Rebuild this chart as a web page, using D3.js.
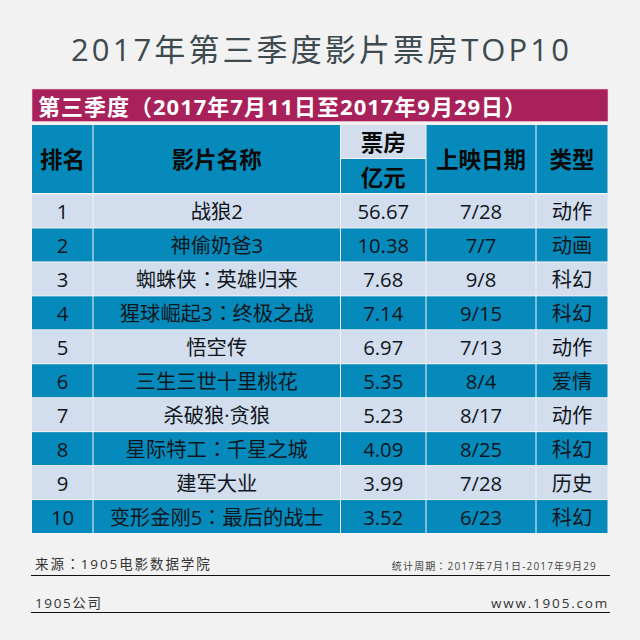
<!DOCTYPE html>
<html>
<head>
<meta charset="utf-8">
<script src="https://cdn.jsdelivr.net/npm/d3@7"></script>
<style>
  /* 全角标点用繁体字形，这样才居中 */
  @font-face { font-family: "Punct"; font-weight: 400; src: local("Noto Sans CJK TC"); unicode-range: U+FF08, U+FF09, U+FF1A; }
  @font-face { font-family: "Punct"; font-weight: 700; src: local("Noto Sans CJK TC Bold"); unicode-range: U+FF08, U+FF09, U+FF1A; }
  html, body { margin: 0; padding: 0; background: #f2f2f2; }
  svg { display: block; }
  text { font-family: "Punct", "Open Sans", "Noto Sans CJK SC", sans-serif; text-anchor: middle; dominant-baseline: central; }
</style>
</head>
<body>
<svg id="chart" width="640" height="640"></svg>
<script>
const ranks = [1, 2, 3, 4, 5, 6, 7, 8, 9, 10];
const films = ["战狼2", "神偷奶爸3", "蜘蛛侠：英雄归来", "猩球崛起3：终极之战", "悟空传", "三生三世十里桃花", "杀破狼·贪狼", "星际特工：千星之城", "建军大业", "变形金刚5：最后的战士"];
const boxOffice = ["56.67", "10.38", "7.68", "7.14", "6.97", "5.35", "5.23", "4.09", "3.99", "3.52"];
const dates = ["7/28", "7/7", "9/8", "9/15", "7/13", "8/4", "8/17", "8/25", "7/28", "6/23"];
const genres = ["动作", "动画", "科幻", "科幻", "动作", "爱情", "动作", "科幻", "历史", "科幻"];

const columns = [ranks, films, boxOffice, dates, genres];
const headers = ["排名", "影片名称", null, "上映日期", "类型"];
const colEdges = [32, 93, 340.5, 426, 536, 608];

const svg = d3.select("#chart");
const blue = "#068abb", pale = "#d2dded", ink = "#10161c", grey = "#3d4a50";

const rowY = d3.scaleBand().domain(ranks).range([194, 533.5]);

// 标题
svg.append("text").attr("x", 321.5).attr("y", 49)
  .attr("font-size", 31).attr("letter-spacing", 3.1).attr("fill", grey)
  .text("2017年第三季度影片票房TOP10");

// 紫色横条
svg.append("rect").attr("x", 32).attr("y", 89).attr("width", 576).attr("height", 32.5)
  .attr("fill", "#a8215a").attr("stroke", "#f6c6d8").attr("stroke-width", 0.6);
svg.append("text").attr("x", 38).attr("y", 105.5)
  .style("text-anchor", "start")
  .attr("font-size", 22).attr("font-weight", 700).attr("letter-spacing", 1).attr("fill", "#fff")
  .text("第三季度（2017年7月11日至2017年9月29日）");

// 表头
headers.forEach((h, i) => {
  const x0 = colEdges[i], x1 = colEdges[i + 1];
  if (h === null) {
    svg.append("rect").attr("x", x0 + 0.5).attr("y", 125).attr("width", x1 - x0 - 1).attr("height", 33).attr("fill", pale);
    svg.append("rect").attr("x", x0 + 0.5).attr("y", 159).attr("width", x1 - x0 - 1).attr("height", 34).attr("fill", blue);
    svg.append("text").attr("x", (x0 + x1) / 2).attr("y", 142)
      .attr("font-size", 22.5).attr("font-weight", 700).attr("fill", "#0a0a0a").text("票房");
    svg.append("text").attr("x", (x0 + x1) / 2).attr("y", 177)
      .attr("font-size", 22.5).attr("font-weight", 700).attr("fill", "#0a0a0a").text("亿元");
  } else {
    svg.append("rect").attr("x", x0 + (i ? 0.5 : 0)).attr("y", 125).attr("width", x1 - x0 - (i ? 1 : 0.5)).attr("height", 68).attr("fill", blue);
    svg.append("text").attr("x", (x0 + x1) / 2).attr("y", 159.5)
      .attr("font-size", 22.5).attr("font-weight", 700).attr("fill", "#0a0a0a").text(h);
  }
});

// 表格行
const rows = svg.selectAll("g.row").data(ranks).join("g").attr("class", "row")
  .attr("transform", d => `translate(0,${rowY(d)})`);

columns.forEach((col, i) => {
  const x0 = colEdges[i], x1 = colEdges[i + 1];
  rows.append("rect")
    .attr("x", x0 + (i ? 0.5 : 0)).attr("y", 0.5)
    .attr("width", x1 - x0 - (i ? 1 : 0.5)).attr("height", rowY.bandwidth() - 1)
    .attr("fill", (d, r) => r % 2 ? blue : pale);
  rows.append("text")
    .attr("x", (x0 + x1) / 2).attr("y", rowY.bandwidth() / 2)
    .attr("font-size", 20.3).attr("fill", ink)
    .text((d, r) => col[r]);
});

// 底部来源
const footer = [
  { y: 564, size: 13.5, x: 35, anchor: "start", spacing: 1.9, fill: "#333", text: "来源：1905电影数据学院" },
  { y: 566, size: 10, x: 597, anchor: "end", spacing: 1.15, fill: "#444", text: "统计周期：2017年7月1日-2017年9月29" },
  { y: 603, size: 13.5, x: 35, anchor: "start", spacing: 1.6, fill: "#333", text: "1905公司" },
  { y: 603, size: 13.5, x: 609, anchor: "end", spacing: 1.8, fill: "#333", text: "www.1905.com" }
];
footer.forEach(f => {
  svg.append("text").attr("x", f.x).attr("y", f.y)
    .style("text-anchor", f.anchor)
    .attr("font-size", f.size).attr("letter-spacing", f.spacing).attr("fill", f.fill).text(f.text);
});
[575.5, 612.5].forEach(y => {
  svg.append("line").attr("x1", 31).attr("x2", 610).attr("y1", y).attr("y2", y)
    .attr("stroke", "#111").attr("stroke-width", 1);
});
</script>
</body>
</html>
